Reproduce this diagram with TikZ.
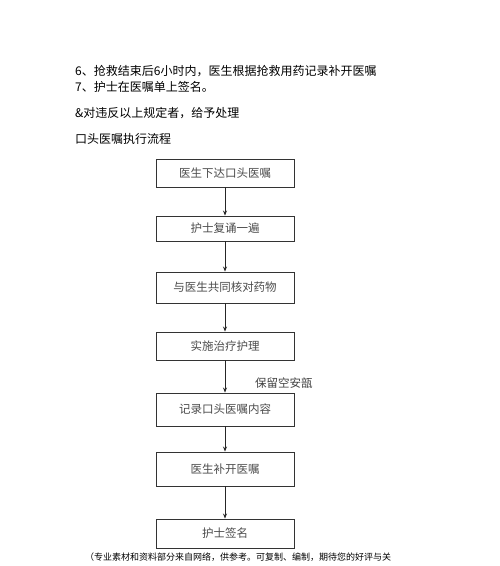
\documentclass[tikz,border=0pt]{standalone}
\usepackage{fontspec}
\newfontfamily\cjk{Noto Sans CJK SC}
\usetikzlibrary{arrows.meta,positioning}
\tikzset{
  stepbox/.style={
    draw=black!80,
    line width=0.9pt,
    minimum width=138pt,
    inner sep=0pt,
    text=black!70,
    font=\cjk\fontsize{11.5}{13}\selectfont
  },
  flow/.style={
    -{Stealth[length=5pt,width=4pt]},
    line width=0.7pt,
    black!85
  },
  line/.style={
    anchor=west,
    inner sep=0pt,
    font=\cjk\fontsize{12}{14}\selectfont
  },
}
\begin{document}
\begin{tikzpicture}[x=1pt,y=-1pt]
    \useasboundingbox[fill=white] (0,0) rectangle (500,566);
    \def\cx{225}
    % text above the chart
    \node[line] (t6) at (75, 71) {6、抢救结束后6小时内，医生根据抢救用药记录补开医嘱};
    \node[line] (t7) at (75, 87) {7、护士在医嘱单上签名。};
    \node[line] (tr) at (75, 113) {\&对违反以上规定者，给予处理};
    \node[line] (th) at (75, 139) {口头医嘱执行流程};
    % chart
    \node[stepbox, minimum height=28pt] (b1) at (\cx, 173) {医生下达口头医嘱};
    \node[stepbox, minimum height=25pt] (b2) at (\cx, 228.5) {护士复诵一遍};
    \node[stepbox, minimum height=31pt] (b3) at (\cx, 287.5) {与医生共同核对药物};
    \node[stepbox, minimum height=28pt] (b4) at (\cx, 346) {实施治疗护理};
    \node[stepbox, minimum height=33pt] (b5) at (\cx, 409.5) {记录口头医嘱内容};
    \node[stepbox, minimum height=34pt] (b6) at (\cx, 469) {医生补开医嘱};
    \node[stepbox, minimum height=29pt] (b7) at (\cx, 533.5) {护士签名};
    \foreach \a/\b in {b1/b2, b2/b3, b3/b4, b4/b5, b5/b6, b6/b7}{
        \draw[flow] (\a) -- (\b);
    }
    \node[anchor=west, inner sep=0pt, text=black!75, font=\cjk\fontsize{11.5}{13}\selectfont] (keep) at (255, 383) {保留空安瓿};
    % footer
    \node[anchor=west, inner sep=0pt, font=\cjk\fontsize{9}{11}\selectfont] (foot) at (85, 557) {（专业素材和资料部分来自网络，供参考。可复制、编制，期待您的好评与关};
\end{tikzpicture}
\end{document}
